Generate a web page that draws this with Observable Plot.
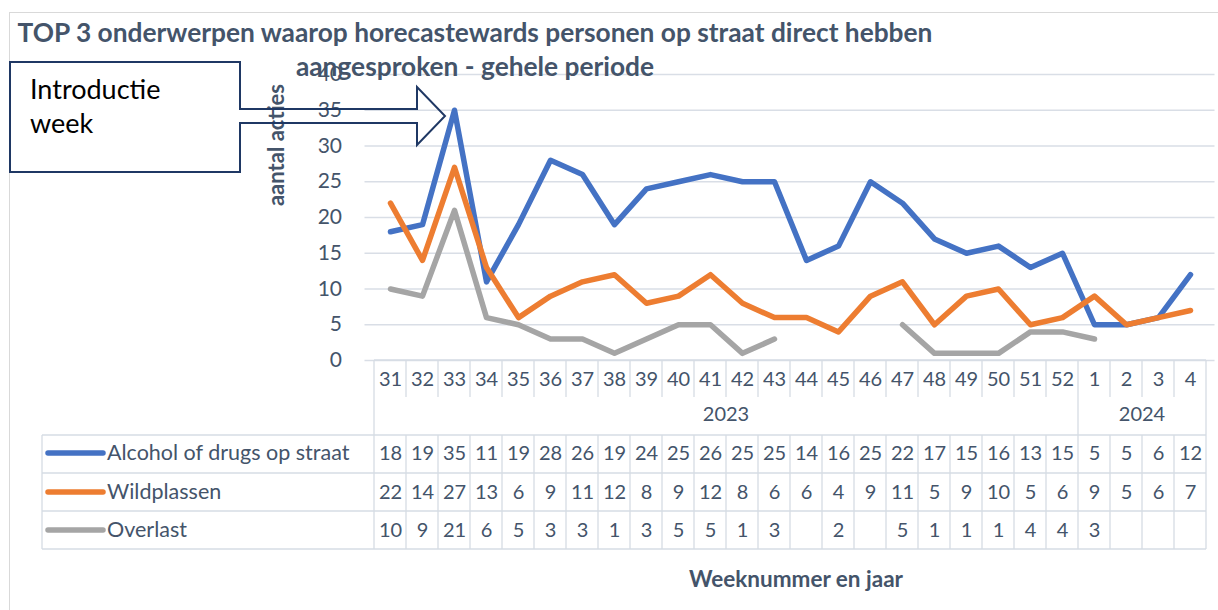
<!DOCTYPE html>
<html><head><meta charset="utf-8">
<script src="https://cdn.jsdelivr.net/npm/d3@7"></script>
<script src="https://cdn.jsdelivr.net/npm/@observablehq/plot@0.6"></script>
<style>
html,body{margin:0;padding:0;background:#fff;}
#chart{width:1218px;height:610px;}
</style></head><body><div id="chart"></div>
<script>
// ---- data ----
const weeks = [31,32,33,34,35,36,37,38,39,40,41,42,43,44,45,46,47,48,49,50,51,52,1,2,3,4];
const years = [2023,2023,2023,2023,2023,2023,2023,2023,2023,2023,2023,2023,2023,2023,2023,2023,2023,2023,2023,2023,2023,2023,2024,2024,2024,2024];
const alcohol     = [18,19,35,11,19,28,26,19,24,25,26,25,25,14,16,25,22,17,15,16,13,15,5,5,6,12];
const wildplassen = [22,14,27,13,6,9,11,12,8,9,12,8,6,6,4,9,11,5,9,10,5,6,9,5,6,7];
const overlast    = [10,9,21,6,5,3,3,1,3,5,5,1,3,null,2,null,5,1,1,1,4,4,3,null,null,null];
const seriesNames  = ["Alcohol of drugs op straat","Wildplassen","Overlast"];
const seriesColors = ["#4472C4","#ED7D31","#A5A5A5"];
const yTicks = [0,5,10,15,20,25,30,35,40];
const yearLabels = [2023, 2024];
const titleLines = ["TOP 3 onderwerpen waarop horecastewards personen op straat direct hebben","aangesproken - gehele periode"];
const yTitle = "aantal acties";
const xTitle = "Weeknummer en jaar";
const calloutLines = ["Introductie","week"];

// ---- derived ----
const keys = weeks.map((w,i)=>`${years[i]}-${w}`);
const seriesValues = [alcohol, wildplassen, overlast];
const seriesRows = seriesValues.map((vals,s)=>vals.map((v,i)=>({series:seriesNames[s], key:keys[i], i, value:v,
  isolated: v!=null && (i===0||vals[i-1]==null) && (i===vals.length-1||vals[i+1]==null)})));

const TXT = "#44546A";
const FONT = "Lato, 'Open Sans', sans-serif";
const rowDy = [93,132,170];
const CELL_FS = 20;

const marks = [
  Plot.gridY(yTicks, {stroke:"#d9dee6", strokeOpacity:1, strokeWidth:1.3}),
  Plot.axisY(yTicks, {tickSize:0, tickPadding:23, fontSize:21, fill:TXT, label:null}),
  ...seriesRows.map((rows,s)=>Plot.line(rows, {x:"key", y:"value", filter:d=>!d.isolated,
      stroke:seriesColors[s], strokeWidth:5.5, strokeLinejoin:"round", strokeLinecap:"round"})),
  Plot.text(keys, {x:d=>d, text:(d,i)=>String(weeks[i]), frameAnchor:"bottom", lineAnchor:"middle",
      textAnchor:"middle", dy:19, fontSize:CELL_FS, fill:TXT}),
  ...seriesRows.map((rows,s)=>Plot.text(rows.filter(d=>d.value!=null), {x:"key", text:d=>String(d.value),
      frameAnchor:"bottom", lineAnchor:"middle", textAnchor:"middle", dy:rowDy[s], fontSize:CELL_FS, fill:TXT}))
];

const chart = Plot.plot({
  width:1218, height:610,
  marginLeft:364.5, marginRight:3.5, marginTop:74, marginBottom:250,
  x:{type:"point", domain:keys, padding:0.5, axis:null},
  y:{domain:[0,40]},
  style:{fontFamily:FONT, color:TXT, background:"white", overflow:"visible"},
  marks
});
document.getElementById("chart").appendChild(chart);

// ---- overlay: table grid, legend, titles, callout (positioned via Plot scales) ----
const svg = d3.select(chart);
const xs = chart.scale("x"), ys = chart.scale("y");
const step = xs.apply(keys[1]) - xs.apply(keys[0]);
const left = xs.apply(keys[0]) - step/2;
const right = xs.apply(keys[keys.length-1]) + step/2;
const yTop = ys.apply(0);
const tableLeft = 42;
const rowLines = [435,473,511,549];
const rowCenters = [453,492,530];
const yearSplit = years.indexOf(2024);

svg.insert("rect", ":first-child").attr("x",9.5).attr("y",12.5).attr("width",1215).attr("height",620)
  .attr("fill","white").attr("stroke","#d9d9d9");

const g = svg.append("g").attr("stroke","#d6dce4").attr("stroke-width",1.3).attr("fill","none");
g.append("line").attr("x1",left).attr("x2",right).attr("y1",yTop).attr("y2",yTop);
rowLines.forEach(y=>g.append("line").attr("x1",tableLeft).attr("x2",right).attr("y1",y).attr("y2",y));
for (let k=0;k<=keys.length;k++){
  const x = left + step*k;
  const full = (k===0||k===keys.length||k===yearSplit);
  g.append("line").attr("x1",x).attr("x2",x).attr("y1",yTop).attr("y2", full?rowLines[0]:397);
  g.append("line").attr("x1",x).attr("x2",x).attr("y1",rowLines[0]).attr("y2",rowLines[3]);
}
g.append("line").attr("x1",tableLeft).attr("x2",tableLeft).attr("y1",rowLines[0]).attr("y2",rowLines[3]);

const T = svg.append("g").attr("text-anchor","start");

// year labels
yearLabels.forEach(yr=>{
  const idx = years.map((y,i)=>y===yr?i:-1).filter(i=>i>=0);
  const cx = (xs.apply(keys[idx[0]]) + xs.apply(keys[idx[idx.length-1]]))/2;
  T.append("text").attr("x",cx).attr("y",415).attr("text-anchor","middle").attr("dy","0.32em")
    .attr("font-size",CELL_FS).attr("fill",TXT).text(yr);
});

// legend keys in table
seriesNames.forEach((n,s)=>{
  T.append("line").attr("x1",48).attr("x2",103).attr("y1",rowCenters[s]).attr("y2",rowCenters[s])
    .attr("stroke",seriesColors[s]).attr("stroke-width",5.5).attr("stroke-linecap","round");
  T.append("text").attr("x",107).attr("y",rowCenters[s]).attr("dy","0.32em").attr("font-size",21.5)
    .attr("text-anchor","start").attr("fill",TXT).text(n);
});

// titles
T.append("text").attr("x",475).attr("y",42).attr("text-anchor","middle").attr("font-size",26.3)
  .attr("font-weight","bold").attr("fill",TXT).text(titleLines[0]);
T.append("text").attr("x",475).attr("y",76).attr("text-anchor","middle").attr("font-size",26.3)
  .attr("font-weight","bold").attr("fill",TXT).text(titleLines[1]);
T.append("text").attr("transform","translate(284,145) rotate(-90)").attr("text-anchor","middle")
  .attr("font-size",22).attr("font-weight","bold").attr("fill",TXT).text(yTitle);
T.append("text").attr("x",796).attr("y",587).attr("text-anchor","middle")
  .attr("font-size",22.5).attr("font-weight","bold").attr("fill",TXT).text(xTitle);

// callout
T.append("path").attr("d","M10,62H240V109H417V87L445,116L417,145V123H240V172H10Z")
  .attr("fill","none").attr("stroke","#1F3864").attr("stroke-width",2);
calloutLines.forEach((t,i)=>T.append("text").attr("x",30).attr("y",99+34*i).attr("font-size",27)
  .attr("text-anchor","start").attr("fill","#000").text(t));
</script></body></html>
